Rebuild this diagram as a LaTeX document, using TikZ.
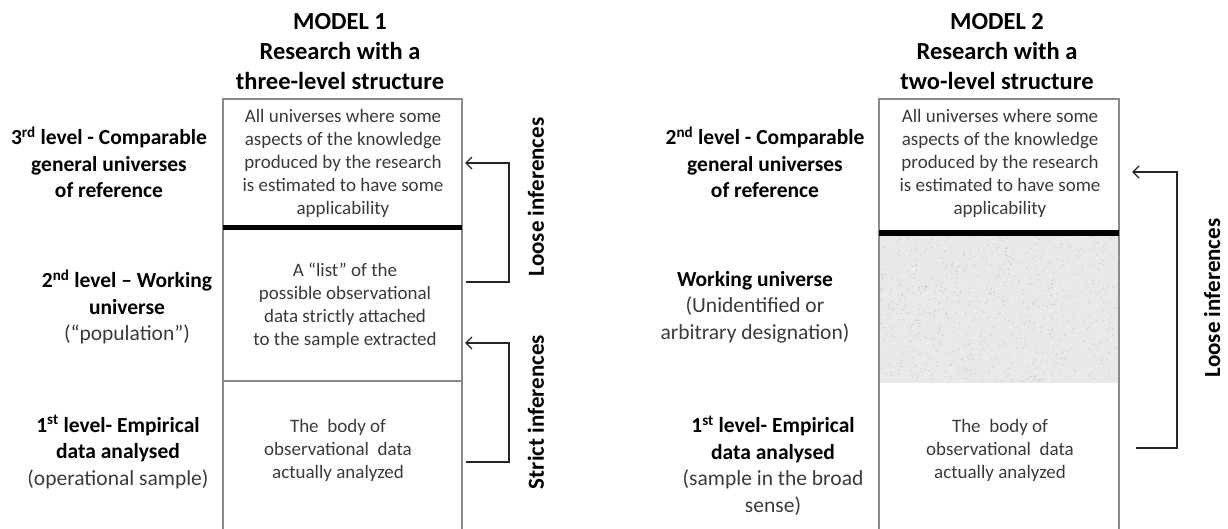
\documentclass[tikz,border=0pt]{standalone}
\usepackage{fontspec}
\setmainfont{Carlito}
\usetikzlibrary{arrows.meta}
\definecolor{txtgray}{HTML}{3A3A3A}
\definecolor{edgegray}{HTML}{8A8A8A}
\begin{document}
\begin{tikzpicture}[x=1pt,y=-1pt,
  title/.style={font=\fontsize{24.5}{30}\selectfont\bfseries, align=center, inner sep=0pt},
  lvl/.style={font=\fontsize{21.5}{26.5}\selectfont, align=center, inner sep=0pt},
  boxtxt/.style={font=\fontsize{19}{23}\selectfont, text=txtgray, align=center, inner sep=0pt},
  side/.style={font=\fontsize{23}{26}\selectfont\bfseries, rotate=90, inner sep=0pt},
  frame/.style={draw=edgegray, line width=1.4pt},
  divider/.style={line width=5.5pt, black},
  infer/.style={draw=black!85, line width=1.6pt},
  tip/.style={-{Straight Barb[length=6pt,width=12pt,line width=1.4pt]}}
]
\useasboundingbox (0,0) rectangle (1228,529);

% ---------- Model 1 ----------
\node[title] (t1) at (340,52) {MODEL 1\\Research with a\\three-level structure};

% column frame
\draw[frame] (223,529) -- (223,99) -- (462,99) -- (462,529);
\draw[frame] (223,381) -- (462,381);
\draw[divider] (223,227.5) -- (462,227.5);

\node[boxtxt] (a3) at (343,163.5) {All universes where some\\aspects of the knowledge\\produced by the research\\is estimated to have some\\applicability};
\node[boxtxt] (a2) at (345,306) {A “list” of the\\possible observational\\data strictly attached\\to the sample extracted};
\node[boxtxt] (a1) at (338,450) {The\ \ body of\\observational\ \ data\\actually analyzed};

\node[lvl] (l3) at (109,162.5) {\textbf{3\textsuperscript{rd} level - Comparable}\\\textbf{general universes}\\\textbf{of reference}};
\node[lvl] (l2) at (127,307) {\textbf{2\textsuperscript{nd} level – Working}\\\textbf{universe}\\\textcolor{txtgray}{(“population”)}};
\node[lvl] (l1) at (118,452) {\textbf{1\textsuperscript{st} level- Empirical}\\\textbf{data analysed}\\\textcolor{txtgray}{(operational sample)}};

% inference brackets
\coordinate (p3) at (465,163);
\coordinate (p2a) at (466,282);
\coordinate (p2b) at (465,343);
\coordinate (p1) at (466,462);
\draw[infer,tip] (p2a) -- (509,282) -- (509,163) -- (p3);
\draw[infer,tip] (p1) -- (509,462) -- (509,343) -- (p2b);
\node[side] (loose1) at (536,197) {Loose inferences};
\node[side] (strict1) at (536,412) {Strict inferences};

% ---------- Model 2 ----------
\node[title] (t2) at (997,52) {MODEL 2\\Research with a\\two-level structure};

% textured middle band (unidentified working universe)
\fill[black!9] (879,235) rectangle (1119,383);
\pgfmathsetseed{7}
\foreach \i in {1,...,1400}{
  \pgfmathsetmacro{\px}{880+238*rnd}
  \pgfmathsetmacro{\py}{236+146*rnd}
  \pgfmathsetmacro{\sh}{rnd<0.5 ? 3 : 22}
  \fill[black!\sh] (\px,\py) circle (0.7);
}

\draw[frame] (879,529) -- (879,99) -- (1119,99) -- (1119,529);
\draw[divider] (879,233) -- (1119,233);

\node[boxtxt] (b2) at (1000,163.5) {All universes where some\\aspects of the knowledge\\produced by the research\\is estimated to have some\\applicability};
\node[boxtxt] (b1) at (1000,450) {The\ \ body of\\observational\ \ data\\actually analyzed};

\node[lvl] (m2) at (765,162.5) {\textbf{2\textsuperscript{nd} level - Comparable}\\\textbf{general universes}\\\textbf{of reference}};
\node[lvl] (mw) at (755,307) {\textbf{Working universe}\\\textcolor{txtgray}{(Unidentified or}\\\textcolor{txtgray}{arbitrary designation)}};
\node[lvl] (m1) at (773,465.5) {\textbf{1\textsuperscript{st} level- Empirical}\\\textbf{data analysed}\\\textcolor{txtgray}{(sample in the broad}\\\textcolor{txtgray}{sense)}};

\coordinate (q2) at (1132,172);
\coordinate (q1) at (1136,448);
\draw[infer,tip] (q1) -- (1177,448) -- (1177,172) -- (q2);
\node[side] (loose2) at (1212,298) {Loose inferences};
\end{tikzpicture}
\end{document}
